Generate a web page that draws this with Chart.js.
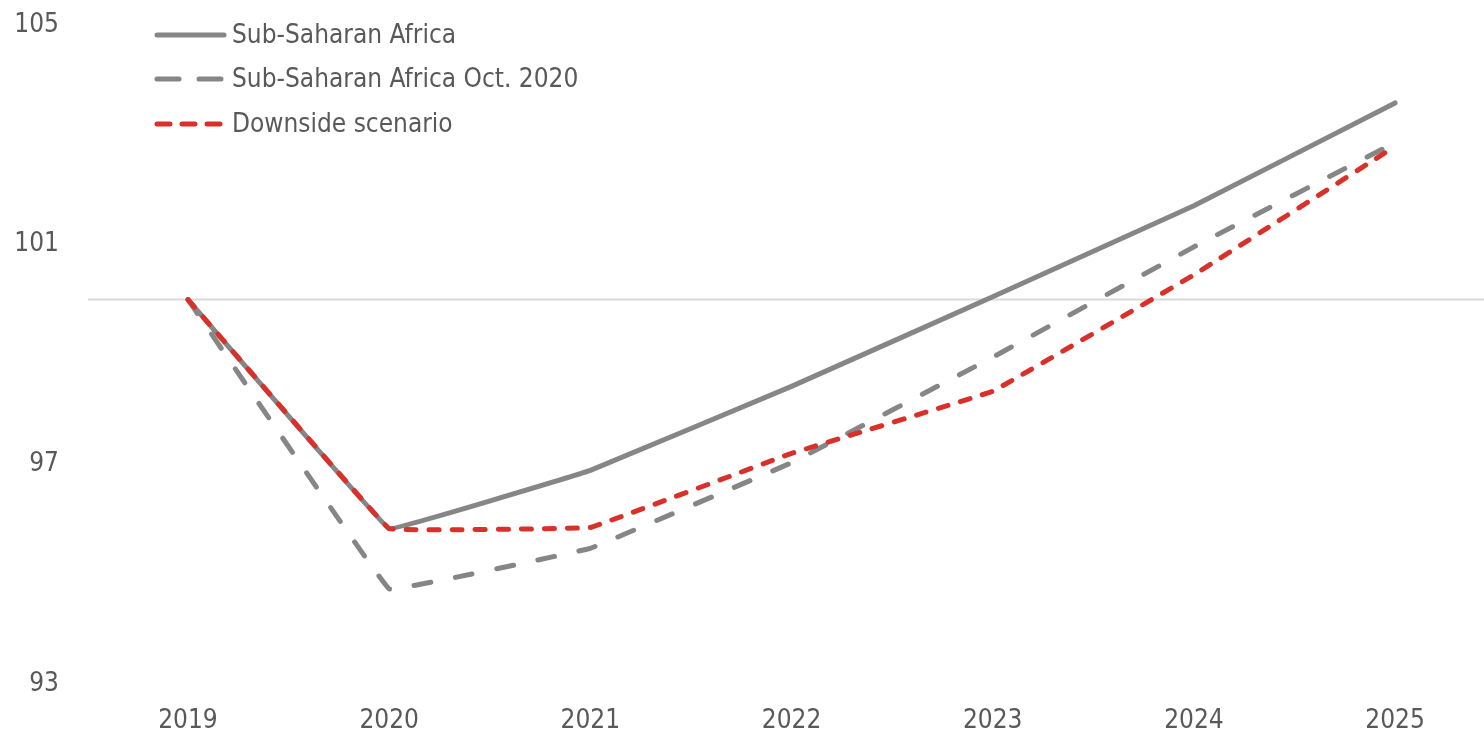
<!DOCTYPE html>
<html>
<head>
<meta charset="utf-8">
<script src="https://cdn.jsdelivr.net/npm/chart.js@4/dist/chart.umd.min.js"></script>
<style>
  html, body { margin: 0; padding: 0; background: #ffffff; overflow: hidden; }
  #wrap { width: 1484px; height: 735px; }
</style>
</head>
<body>
<div id="wrap"><canvas id="gdpChart" width="1484" height="735"></canvas></div>
<script>
// Real GDP index, 2019 = 100
const years = [2019, 2020, 2021, 2022, 2023, 2024, 2025];
const ssaCurrent = [100, 95.83, 96.89, 98.42, 100.05, 101.71, 103.58];
const ssaOct2020 = [100, 94.73, 95.47, 97.03, 98.95, 100.96, 102.86];
const downside = [100, 95.83, 95.85, 97.2, 98.33, 100.45, 102.79];
const yTicks = [93, 97, 101, 105];
const baseline = 100;

const FONT = "'Liberation Sans Narrow', 'Arial Narrow', 'DejaVu Sans Condensed', sans-serif";
const TEXT = "#595959";
const GREY = "#868686";
const RED = "#d9302a";

const toPoints = (vals) => vals.map((v, i) => ({ x: years[i], y: v }));

const series = [
  { label: "Sub-Saharan Africa", data: ssaCurrent, color: GREY, dash: [] },
  { label: "Sub-Saharan Africa Oct. 2020", data: ssaOct2020, color: GREY, dash: [17, 25] },
  { label: "Downside scenario", data: downside, color: RED, dash: [10, 13] }
];

// light rule at the 2019 level
const baselinePlugin = {
  id: "baseline",
  beforeDatasetsDraw(chart) {
    const { ctx, chartArea } = chart;
    const y = chart.scales.y.getPixelForValue(baseline);
    ctx.save();
    ctx.strokeStyle = "#d9d9d9";
    ctx.lineWidth = 2;
    ctx.beginPath();
    ctx.moveTo(chartArea.left, y);
    ctx.lineTo(chart.width, y);
    ctx.stroke();
    ctx.restore();
  }
};

// legend in the top-left corner of the plot
const cornerLegend = {
  id: "cornerLegend",
  afterDraw(chart) {
    const { ctx } = chart;
    const rows = [35, 79, 124];
    ctx.save();
    series.forEach((s, i) => {
      const y = rows[i];
      ctx.strokeStyle = s.color;
      ctx.lineWidth = 5;
      ctx.lineCap = "round";
      ctx.setLineDash(i === 1 ? [22, 20] : i === 2 ? [13, 12] : []);
      ctx.beginPath();
      ctx.moveTo(157, y);
      ctx.lineTo(224, y);
      ctx.stroke();
      ctx.setLineDash([]);
      ctx.fillStyle = TEXT;
      ctx.font = "26px " + FONT;
      ctx.textBaseline = "middle";
      ctx.fillText(s.label, 232, y + 1);
    });
    ctx.restore();
  }
};

new Chart(document.getElementById("gdpChart"), {
  type: "line",
  data: {
    datasets: series.map((s, i) => ({
      label: s.label,
      data: toPoints(s.data),
      borderColor: s.color,
      borderWidth: 5,
      borderDash: s.dash,
      borderCapStyle: "round",
      borderJoinStyle: "round",
      pointRadius: 0,
      tension: 0.03,
      fill: false,
      order: series.length - i
    }))
  },
  options: {
    responsive: false,
    animation: false,
    layout: { padding: { top: 25, right: 0, bottom: 0, left: 0 } },
    plugins: {
      legend: { display: false },
      tooltip: { enabled: false }
    },
    scales: {
      x: {
        type: "linear",
        min: 2018.503,
        max: 2025.442,
        afterBuildTicks: (scale) => { scale.ticks = years.map(v => ({ value: v })); },
        afterFit: (scale) => { scale.height = 51; },
        grid: { display: false },
        border: { display: false },
        ticks: {
          padding: 14,
          color: TEXT,
          font: { family: FONT, size: 26 },
          maxRotation: 0,
          callback: (v) => String(v)
        }
      },
      y: {
        min: 93,
        max: 105,
        afterBuildTicks: (scale) => { scale.ticks = yTicks.map(v => ({ value: v })); },
        afterFit: (scale) => {
          scale.width = 88;
          scale.paddingTop = 0;
          scale.paddingBottom = 0;
        },
        grid: { display: false },
        border: { display: false },
        ticks: {
          padding: 21,
          color: TEXT,
          font: { family: FONT, size: 26 }
        }
      }
    }
  },
  plugins: [baselinePlugin, cornerLegend]
});
</script>
</body>
</html>
